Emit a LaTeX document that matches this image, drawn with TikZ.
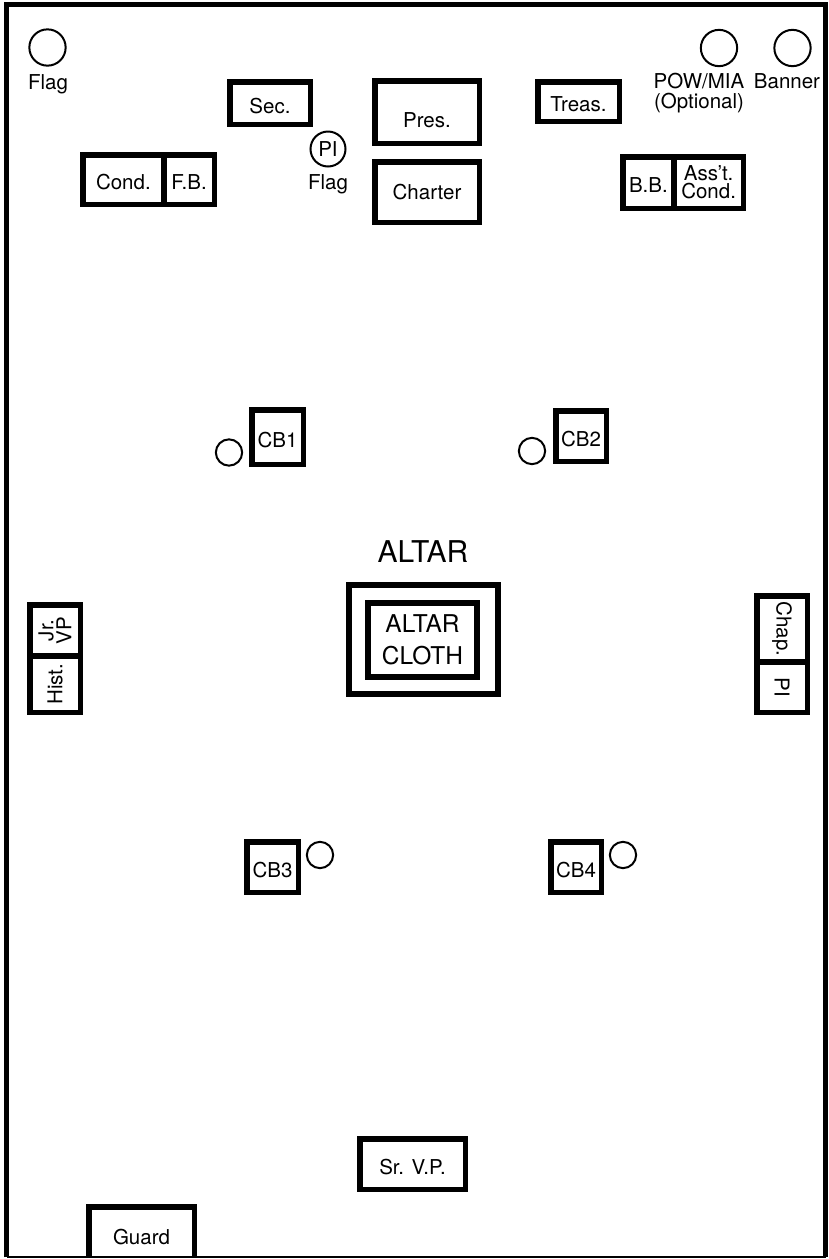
\documentclass[tikz,border=0pt]{standalone}
\usepackage{fontspec}
\setmainfont{TeX Gyre Heros}
\usetikzlibrary{positioning}
\newcommand\seatfont{\fontsize{20.5}{18}\selectfont}

\begin{document}
\begin{tikzpicture}[x=1pt, y=-1pt, every node/.style={font=\seatfont},
  box/.style={draw, line width=5.5pt, inner sep=0pt, outer sep=0pt},
  captext/.style={text height=20pt, text depth=0pt},
  pole/.style={circle, draw, line width=2pt, inner sep=0pt, minimum size=36.3pt},
  chair/.style={circle, draw, line width=2pt, inner sep=0pt, minimum size=26.3pt}]
  \useasboundingbox (0,0) rectangle (829,1259);
  \draw[line width=5pt] (6.5,1257) |- (825.5,4.5) -- (825.5,1257);
  \draw[line width=1.5pt] (6.5,1257) -- (825.5,1257);

  \node[pole] (flag) at (47.5,47.5) {};
  \node[anchor=base] (flaglbl) at (48,89) {Flag};
  \node[pole] (pow) at (719,48) {};
  \node[align=center] (powlbl) at (699,93) {POW/MIA\\[2pt](Optional)};
  \node[pole] (banner) at (792.5,48) {};
  \node[anchor=base] (bannerlbl) at (787,88) {Banner};

  \node[box, captext, minimum width=80.5pt, minimum height=42.5pt] (sec) at (270,103) {Sec.};
  \node[box, captext, minimum width=104.5pt, minimum height=62.5pt, text height=30pt] (pres) at (427,112) {Pres.};
  \node[box, minimum width=104.5pt, minimum height=60.5pt] (charter) at (427,192) {Charter};
  \node[box, captext, minimum width=81.5pt, minimum height=39.5pt] (treas) at (578.5,101.5) {Treas.};
  \node[box, captext, minimum width=81.25pt, minimum height=49.5pt] (cond) at (123.375,179.5) {Cond.};
  \node[box, captext, minimum width=50.25pt, minimum height=49.5pt, right=0pt of cond] (fb) {F.B.};
  \node[pole, minimum size=35pt] (piflag) at (328,149) {PI};
  \node[anchor=base] (piflaglbl) at (328,189) {Flag};
  \node[box, captext, minimum width=51.25pt, minimum height=51.5pt] (bb) at (648.375,182.5) {B.B.};
  \node[box, align=center, minimum width=69.25pt, minimum height=51.5pt, right=0pt of bb] (asst) {Ass’t.\\Cond.};

  \node[box, captext, minimum width=51.5pt, minimum height=54.5pt] (cb1) at (277.5,437) {CB1};
  \node[chair] (cb1chair) at (229,452.5) {};
  \node[box, captext, minimum width=50.5pt, minimum height=50.5pt] (cb2) at (581,436) {CB2};
  \node[chair] (cb2chair) at (532,451) {};

  \node[font=\fontsize{30}{32}\selectfont, anchor=base] (altarlbl) at (423,562) {ALTAR};
  \node[box, line width=6pt, minimum width=149pt, minimum height=109pt] (altar) at (423.5,639.5) {};
  \node[box, line width=6pt, align=center, minimum width=109pt, minimum height=74pt,
    font=\fontsize{24.5}{32.5}\selectfont] (cloth) at (422.5,640) {ALTAR\\CLOTH};

  \node[box, rotate=90, align=center, minimum width=51.25pt, minimum height=50.5pt] (jrvp) at (55,630.375) {Jr.\\VP};
  \node[box, rotate=90, minimum width=56.25pt, minimum height=50.5pt] (hist) at (55,684.125) {Hist.};
  \node[box, rotate=-90, minimum width=66.25pt, minimum height=50.5pt] (chap) at (782,628.875) {Chap.};
  \node[box, rotate=-90, minimum width=50.25pt, minimum height=50.5pt] (pi) at (782,687.125) {PI};

  \node[box, captext, minimum width=51.5pt, minimum height=50.5pt] (cb3) at (272.5,867) {CB3};
  \node[chair] (cb3chair) at (320,855) {};
  \node[box, captext, minimum width=50.5pt, minimum height=50.5pt] (cb4) at (576,867) {CB4};
  \node[chair] (cb4chair) at (623,855) {};

  \node[box, captext, minimum width=105.5pt, minimum height=50.5pt] (srvp) at (412.5,1164) {Sr. V.P.};
  \node[inner sep=0pt, outer sep=0pt, minimum width=105.5pt, minimum height=50.25pt,
    text height=26pt, text depth=0pt] (guard) at (141.5,1231.875) {Guard};
  \draw[line width=5.5pt] (guard.south west) |- (guard.north) -| (guard.south east);
\end{tikzpicture}
\end{document}
